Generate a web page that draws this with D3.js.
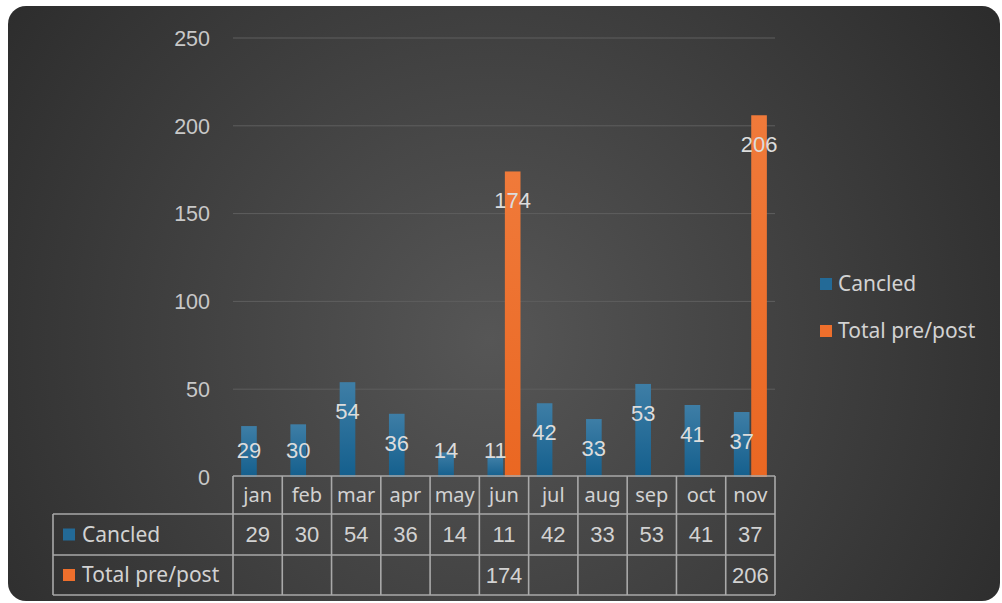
<!DOCTYPE html>
<html>
<head>
<meta charset="utf-8">
<script src="https://cdn.jsdelivr.net/npm/d3@7"></script>
<style>
  html, body { margin: 0; padding: 0; background: #fff; }
  svg { display: block; }
</style>
</head>
<body>
<div id="chart"></div>
<script>
// Data
const months = ["jan", "feb", "mar", "apr", "may", "jun", "jul", "aug", "sep", "oct", "nov"];
const canceled = [29, 30, 54, 36, 14, 11, 42, 33, 53, 41, 37];
const totalPrePost = [null, null, null, null, null, 174, null, null, null, null, 206];
const seriesNames = ["Cancled", "Total pre/post"];
const yTicks = [0, 50, 100, 150, 200, 250];

const seriesColors = { "Cancled": "url(#blueGrad)", "Total pre/post": "url(#orangeGrad)" };
const swatchColors = { "Cancled": "#236a97", "Total pre/post": "#ee6f2c" };

const W = 1002, H = 603;
const plot = { left: 233, right: 775, top: 38, bottom: 477 };
const table = { labelLeft: 53, headTop: 476, rows: [514, 555, 595] };
const numFont = "'Liberation Sans', Arial, sans-serif";
const textFont = "'Noto Sans', 'Open Sans', sans-serif";

const svg = d3.select("#chart").append("svg")
    .attr("width", W)
    .attr("height", H);

const defs = svg.append("defs");
const bg = defs.append("radialGradient")
    .attr("id", "bgGrad")
    .attr("gradientUnits", "userSpaceOnUse")
    .attr("cx", 490).attr("cy", 340).attr("r", 640);
bg.append("stop").attr("offset", "0%").attr("stop-color", "#565656");
bg.append("stop").attr("offset", "100%").attr("stop-color", "#292929");

const blue = defs.append("linearGradient").attr("id", "blueGrad")
    .attr("x1", 0).attr("y1", 0).attr("x2", 0).attr("y2", 1);
blue.append("stop").attr("offset", "0%").attr("stop-color", "#3e7ea6");
blue.append("stop").attr("offset", "100%").attr("stop-color", "#145f8d");

const orange = defs.append("linearGradient").attr("id", "orangeGrad")
    .attr("x1", 0).attr("y1", 0).attr("x2", 0).attr("y2", 1);
orange.append("stop").attr("offset", "0%").attr("stop-color", "#f07a3a");
orange.append("stop").attr("offset", "100%").attr("stop-color", "#ea6722");

// background card
svg.append("rect")
    .attr("x", 8).attr("y", 6)
    .attr("width", 992).attr("height", 595)
    .attr("rx", 18)
    .attr("fill", "url(#bgGrad)");

// Scales
const x = d3.scaleBand().domain(months).range([plot.left, plot.right]).padding(0);
const y = d3.scaleLinear().domain([0, 250]).range([plot.bottom, plot.top]);
const xs = d3.scaleBand().domain(seriesNames).range([-16.5, 16.5]).paddingInner(0.1);

// Gridlines + y labels
svg.append("g").selectAll("line")
    .data(yTicks.filter(d => d > 0))
    .enter().append("line")
    .attr("x1", plot.left).attr("x2", plot.right)
    .attr("y1", d => y(d)).attr("y2", d => y(d))
    .attr("stroke", "#5e5e5e")
    .attr("stroke-width", 1);

svg.append("g").selectAll("text")
    .data(yTicks)
    .enter().append("text")
    .attr("x", 210)
    .attr("y", d => y(d))
    .attr("dy", "0.36em")
    .attr("text-anchor", "end")
    .style("font-family", numFont)
    .style("font-size", "21.5px")
    .style("fill", "#c8c8c8")
    .text(d => d);

// Bars
const rows = months.map((m, i) => ({ month: m, values: [
    { key: "Cancled", value: canceled[i] },
    { key: "Total pre/post", value: totalPrePost[i] }
].filter(v => v.value != null) }));

const groups = svg.append("g").selectAll("g")
    .data(rows)
    .enter().append("g")
    .attr("transform", d => `translate(${x(d.month) + x.bandwidth() / 2},0)`);

groups.selectAll("rect")
    .data(d => d.values)
    .enter().append("rect")
    .attr("x", d => xs(d.key))
    .attr("width", xs.bandwidth())
    .attr("y", d => y(d.value))
    .attr("height", d => y(0) - y(d.value))
    .attr("fill", d => seriesColors[d.key]);

// Data labels (inside end)
groups.selectAll("text")
    .data(d => d.values)
    .enter().append("text")
    .attr("x", d => xs(d.key) + xs.bandwidth() / 2)
    .attr("y", d => Math.min(y(d.value) + 29, 450))
    .attr("dy", "0.36em")
    .attr("text-anchor", "middle")
    .style("font-family", numFont)
    .style("font-size", "22px")
    .style("fill", "#dcdcdc")
    .text(d => d.value);

// Data table
const lineColor = "#a9a9a9";
const tbl = svg.append("g")
    .attr("stroke", lineColor)
    .attr("stroke-width", 1.6)
    .attr("fill", "none");

tbl.append("line")
    .attr("x1", plot.left).attr("x2", plot.right)
    .attr("y1", table.headTop).attr("y2", table.headTop);

table.rows.forEach(ry => {
    tbl.append("line")
        .attr("x1", table.labelLeft).attr("x2", plot.right)
        .attr("y1", ry).attr("y2", ry);
});

tbl.append("line")
    .attr("x1", table.labelLeft).attr("x2", table.labelLeft)
    .attr("y1", table.rows[0]).attr("y2", table.rows[2]);

const colEdges = months.map(m => x(m)).concat([plot.right]);
tbl.selectAll(".vline")
    .data(colEdges)
    .enter().append("line")
    .attr("class", "vline")
    .attr("x1", d => d).attr("x2", d => d)
    .attr("y1", table.headTop).attr("y2", table.rows[2]);

// header labels
svg.append("g").selectAll("text")
    .data(months)
    .enter().append("text")
    .attr("x", d => x(d) + x.bandwidth() / 2)
    .attr("y", (table.headTop + table.rows[0]) / 2)
    .attr("dy", "0.33em")
    .attr("text-anchor", "middle")
    .style("font-family", textFont)
    .style("font-size", "20px")
    .style("fill", "#d2d2d2")
    .text(d => d);

// table values
const tableSeries = [canceled, totalPrePost];
tableSeries.forEach((vals, r) => {
    const cy = (table.rows[r] + table.rows[r + 1]) / 2;
    svg.append("g").selectAll("text")
        .data(months.map((m, i) => ({ month: m, v: vals[i] })).filter(d => d.v != null))
        .enter().append("text")
        .attr("x", d => x(d.month) + x.bandwidth() / 2)
        .attr("y", cy)
        .attr("dy", "0.36em")
        .attr("text-anchor", "middle")
        .style("font-family", numFont)
        .style("font-size", "22px")
        .style("fill", "#d2d2d2")
        .text(d => d.v);

    // row label with key
    svg.append("rect")
        .attr("x", 63).attr("y", cy - 6)
        .attr("width", 12).attr("height", 12)
        .attr("fill", swatchColors[seriesNames[r]]);
    svg.append("text")
        .attr("x", 82).attr("y", cy)
        .attr("dy", "0.35em")
        .style("font-family", textFont)
        .style("font-size", "21px")
        .style("fill", "#d2d2d2")
        .text(seriesNames[r]);
});

// Legend
const legend = svg.append("g")
    .selectAll("g")
    .data(seriesNames)
    .enter().append("g")
    .attr("transform", (d, i) => `translate(820, ${284 + i * 47})`);

legend.append("rect")
    .attr("x", 0).attr("y", -6)
    .attr("width", 12).attr("height", 12)
    .attr("fill", d => swatchColors[d]);

legend.append("text")
    .attr("x", 18)
    .attr("dy", "0.35em")
    .style("font-family", textFont)
    .style("font-size", "21px")
    .style("fill", "#d2d2d2")
    .text(d => d);
</script>
</body>
</html>
